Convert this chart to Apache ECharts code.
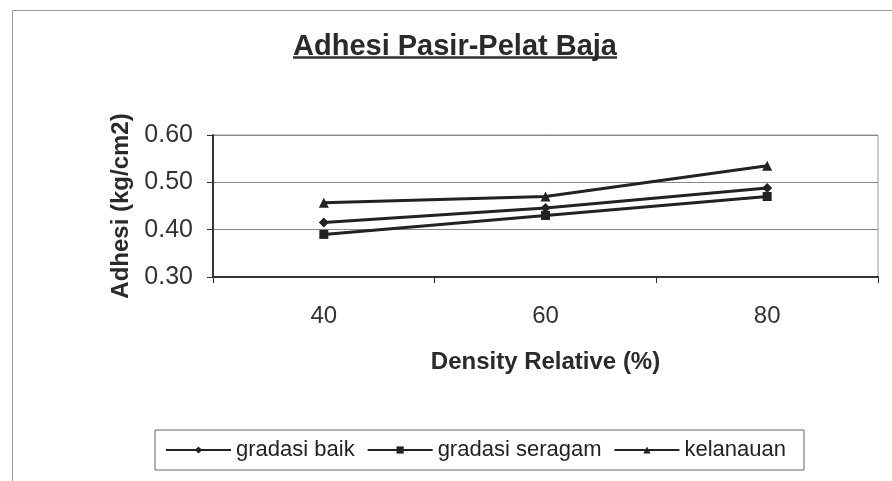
<!DOCTYPE html>
<html><head><meta charset="utf-8">
<script src="https://cdn.jsdelivr.net/npm/echarts@6/dist/echarts.min.js"></script>
<style>html,body{margin:0;padding:0;background:#fff}#c{width:892px;height:481px}</style>
</head><body><div id="c"></div>
<script>
const categories = ['40', '60', '80'];
const gradasiBaik = [0.415, 0.446, 0.488];
const gradasiSeragam = [0.39, 0.43, 0.47];
const kelanauan = [0.457, 0.47, 0.535];
const yTicks = [0.3, 0.4, 0.5, 0.6];

const chart = echarts.init(document.getElementById('c'));
const lineColor = '#222';
function mk(name, data, symbol, size) {
  return {
    name, type: 'line', data, symbol, symbolSize: size,
    lineStyle: { color: lineColor, width: 3 },
    itemStyle: { color: lineColor },
    emphasis: { disabled: true }, animation: false
  };
}
chart.setOption({
  animation: false,
  backgroundColor: '#fff',
  title: {
    text: 'Adhesi Pasir-Pelat Baja', left: 450, top: 27, textAlign: 'center',
    textStyle: { fontFamily: 'Liberation Sans', fontWeight: 'bold', fontSize: 29, color: '#2a2a2a' }
  },
  graphic: [
    { type: 'rect', shape: { x: 12.5, y: 10.5, width: 890, height: 480 }, style: { fill: null, stroke: '#999', lineWidth: 1 }, silent: true },
    { type: 'line', shape: { x1: 293, y1: 57.5, x2: 617, y2: 57.5 }, style: { stroke: '#333', lineWidth: 2.5 }, silent: true }
  ],
  grid: { left: 213, right: 14, top: 135, bottom: 204, show: true, borderColor: '#999', borderWidth: 1 },
  xAxis: {
    type: 'category', data: categories, boundaryGap: true,
    name: 'Density Relative (%)', nameLocation: 'middle', nameGap: 73,
    nameTextStyle: { fontFamily: 'Liberation Sans', fontWeight: 'bold', fontSize: 24, color: '#2a2a2a' },
    axisLine: { lineStyle: { color: '#333', width: 2 } },
    axisTick: { show: true, length: 6, lineStyle: { color: '#333' } },
    axisLabel: { fontFamily: 'Liberation Sans', fontSize: 24, color: '#333', margin: 27 }
  },
  yAxis: {
    type: 'value', min: yTicks[0], max: yTicks[yTicks.length - 1], interval: 0.1,
    name: 'Adhesi (kg/cm2)', nameLocation: 'middle', nameGap: 80,
    nameTextStyle: { fontFamily: 'Liberation Sans', fontWeight: 'bold', fontSize: 24, color: '#2a2a2a' },
    axisLine: { show: true, lineStyle: { color: '#333', width: 2 } },
    axisTick: { show: true, length: 6, lineStyle: { color: '#333' } },
    axisLabel: { fontFamily: 'Liberation Sans', fontSize: 25, color: '#333', margin: 20, formatter: v => v.toFixed(2) },
    splitLine: { show: true, lineStyle: { color: '#888', width: 1 } }
  },
  legend: {
    left: 155, top: 430,
    data: ['gradasi baik', 'gradasi seragam', 'kelanauan'],
    itemWidth: 65, itemHeight: 9, itemGap: 12,
    borderColor: '#666', borderWidth: 1, padding: [9, 18, 9, 10],
    textStyle: { fontFamily: 'Liberation Sans', fontSize: 22, color: '#222' }
  },
  series: [
    mk('gradasi baik', gradasiBaik, 'diamond', 10),
    mk('gradasi seragam', gradasiSeragam, 'rect', 9),
    mk('kelanauan', kelanauan, 'triangle', 10)
  ]
});
</script></body></html>
